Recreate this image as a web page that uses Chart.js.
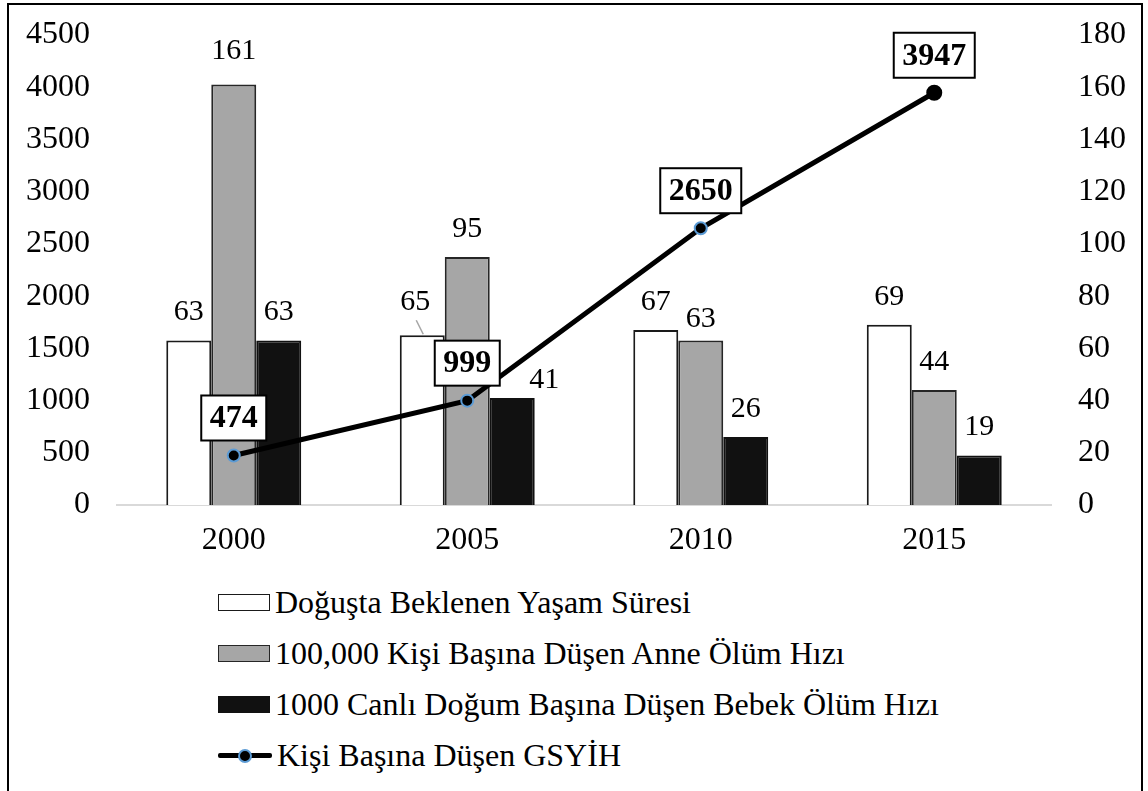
<!DOCTYPE html>
<html lang="tr">
<head>
<meta charset="utf-8">
<script src="https://cdn.jsdelivr.net/npm/chart.js@4.4.1/dist/chart.umd.min.js"></script>
<style>
    body { margin: 0; background: #fff; font-family: 'Liberation Serif', 'Times New Roman', serif; }
    #sayfa { position: relative; width: 1148px; height: 791px; overflow: hidden; }
    #cerceve { position: absolute; left: 7px; top: 3px; width: 1136px; height: 820px; border: 2px solid #000; box-sizing: border-box; }
    #grafikKutu { position: absolute; left: 0; top: 0; width: 1148px; height: 570px; }
    #lejant { position: absolute; left: 218px; top: 577px; font-size: 32px; color: #000; }
    .satir { height: 51px; line-height: 51px; display: flex; align-items: center; white-space: nowrap; }
    .kutu { width: 50px; height: 15px; border: 1.5px solid #222; margin-right: 5px; }
    .cizgi { position: relative; width: 54px; height: 20px; margin-right: 5px; }
    .cizgi::before { content: ''; position: absolute; left: 0; right: 0; top: 7.5px; height: 5px; background: #000; border-radius: 2px; }
    .cizgi::after { content: ''; position: absolute; left: 20px; top: 3px; width: 10px; height: 10px; border-radius: 50%; background: #000; border: 2px solid #5b9bd5; }
</style>
</head>
<body>
<div id="sayfa">
    <div id="cerceve"></div>
    <div id="grafikKutu"><canvas id="grafik"></canvas></div>
    <div id="lejant"></div>
</div>
<script>
const yillar = ['2000', '2005', '2010', '2015'];
const yasamSuresi = [63, 65, 67, 69];
const anneOlumHizi = [161, 95, 63, 44];
const bebekOlumHizi = [63, 41, 26, 19];
const gsyih = [474, 999, 2650, 3947];

const solEksen = { min: 0, max: 4500, adim: 500 };
const sagEksen = { min: 0, max: 180, adim: 20 };

const YAZI = "'Liberation Serif', 'Times New Roman', serif";

// --- Etiket konumu: bazi etiketler cakismamak icin kaydirilmis ---
const etiketKaydir = {
    '1-0': { dy: -5 },
    '0-1': { dx: -7, dy: -5, cizgi: true },
    '2-1': { dx: 32, dy: 10 },
    '1-2': { dy: 7 }
};

const etiketEklentisi = {
    id: 'etiketler',
    afterDatasetsDraw(chart) {
        const ctx = chart.ctx;
        ctx.save();
        chart.data.datasets.forEach((ds, di) => {
            const meta = chart.getDatasetMeta(di);
            meta.data.forEach((el, i) => {
                const deger = ds.data[i];
                if (ds.type === 'line') {
                    ctx.font = `bold 32px ${YAZI}`;
                    const metin = String(deger);
                    const w = ctx.measureText(metin).width + 17;
                    const h = 45;
                    const x = el.x - w / 2;
                    const y = el.y - 15 - h;
                    ctx.fillStyle = '#fff';
                    ctx.fillRect(x, y, w, h);
                    ctx.lineWidth = 2;
                    ctx.strokeStyle = '#000';
                    ctx.strokeRect(x, y, w, h);
                    ctx.fillStyle = '#000';
                    ctx.textAlign = 'center';
                    ctx.textBaseline = 'middle';
                    ctx.fillText(metin, el.x, y + h / 2 + 1);
                } else {
                    const k = etiketKaydir[di + '-' + i] || {};
                    const x = el.x + (k.dx || 0);
                    const y = el.y - 28 + (k.dy || 0);
                    if (k.cizgi) {
                        ctx.strokeStyle = '#a6a6a6';
                        ctx.lineWidth = 1.5;
                        ctx.beginPath();
                        ctx.moveTo(x + 1, y + 18);
                        ctx.lineTo(el.x + 1, el.y - 1);
                        ctx.stroke();
                    }
                    ctx.font = `30px ${YAZI}`;
                    ctx.fillStyle = '#000';
                    ctx.textAlign = 'center';
                    ctx.textBaseline = 'middle';
                    ctx.fillText(String(deger), x, y);
                }
            });
        });
        ctx.restore();
    }
};

// tick padding'in ust/alt bosluga eklenmesini engelle
function eksenGenislik(w) {
    return s => {
        s.width = w;
        s.paddingTop = 0;
        s.paddingBottom = 0;
    };
}

const cubukOrtak = { type: 'bar', yAxisID: 'ySag', borderWidth: 2, order: 2, categoryPercentage: 0.578, barPercentage: 1.0 };

const grafik = new Chart(document.getElementById('grafik'), {
    data: {
        labels: yillar,
        datasets: [
            { ...cubukOrtak, label: 'Doğuşta Beklenen Yaşam Süresi', data: yasamSuresi, backgroundColor: '#ffffff', borderColor: '#1a1a1a' },
            { ...cubukOrtak, label: '100,000 Kişi Başına Düşen Anne Ölüm Hızı', data: anneOlumHizi, backgroundColor: '#a6a6a6', borderColor: '#262626' },
            { ...cubukOrtak, label: '1000 Canlı Doğum Başına Düşen Bebek Ölüm Hızı', data: bebekOlumHizi, backgroundColor: '#111111', borderColor: '#111111' },
            {
                type: 'line',
                label: 'Kişi Başına Düşen GSYİH',
                data: gsyih,
                yAxisID: 'ySol',
                order: 0,
                borderColor: '#000',
                borderWidth: 5,
                tension: 0,
                pointRadius: [6, 6, 6, 7],
                pointBorderWidth: 2,
                pointBackgroundColor: '#000',
                pointBorderColor: ['#5b9bd5', '#5b9bd5', '#5b9bd5', '#000']
            }
        ]
    },
    options: {
        responsive: true,
        maintainAspectRatio: false,
        animation: false,
        layout: { padding: { top: 35, left: 0, right: 0, bottom: 0 } },
        plugins: { legend: { display: false }, tooltip: { enabled: false } },
        scales: {
            x: {
                grid: { display: false },
                border: { display: true, color: '#d9d9d9', width: 2 },
                ticks: { color: '#000', font: { family: YAZI, size: 32 }, padding: 8 },
                afterFit: s => { s.height = 65; }
            },
            ySol: {
                position: 'left',
                min: solEksen.min, max: solEksen.max,
                grid: { display: false, drawTicks: false },
                border: { display: false },
                ticks: { stepSize: solEksen.adim, color: '#000', font: { family: YAZI, size: 32 }, padding: 27, callback: v => String(v) },
                afterFit: eksenGenislik(117)
            },
            ySag: {
                position: 'right',
                min: sagEksen.min, max: sagEksen.max,
                grid: { display: false, drawTicks: false },
                border: { display: false },
                ticks: { stepSize: sagEksen.adim, color: '#000', font: { family: YAZI, size: 32 }, padding: 27, callback: v => String(v) },
                afterFit: eksenGenislik(97)
            }
        }
    },
    plugins: [etiketEklentisi]
});

// --- Lejant (alt alta) ---
const lejant = document.getElementById('lejant');
grafik.data.datasets.forEach(ds => {
    const satir = document.createElement('div');
    satir.className = 'satir';
    const isaret = document.createElement('span');
    if (ds.type === 'line') {
        isaret.className = 'cizgi';
    } else {
        isaret.className = 'kutu';
        isaret.style.background = ds.backgroundColor;
        isaret.style.borderColor = ds.borderColor;
    }
    satir.appendChild(isaret);
    satir.appendChild(document.createTextNode(ds.label));
    lejant.appendChild(satir);
});
</script>
</body>
</html>
